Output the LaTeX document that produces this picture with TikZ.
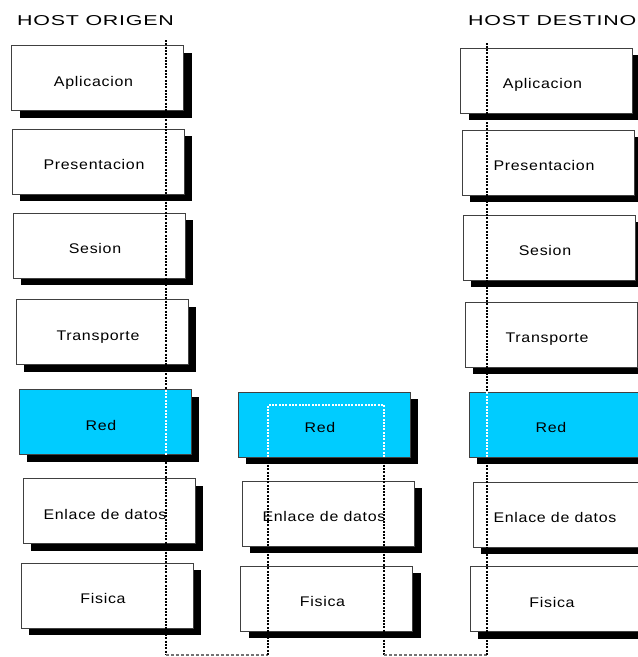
\documentclass[tikz,border=0pt]{standalone}
\usepackage{fontspec}
\setmainfont{Liberation Sans}
\newfontfamily\boxfontfam{Liberation Sans}[FakeStretch=1.14, LetterSpace=5]
\newfontfamily\titlefontfam{Liberation Sans}[FakeStretch=1.5, LetterSpace=5]
\usetikzlibrary{shadows}
\definecolor{redblue}{RGB}{0,204,255}
\begin{document}
\begin{tikzpicture}[x=1pt,y=-1pt,
  layer/.style={draw=black!75, line width=0.8pt, fill=white,
    minimum width=172pt, minimum height=65pt, inner sep=0pt,
    text height=16pt, text depth=0pt,
    font=\boxfontfam\fontsize{14pt}{16pt}\selectfont,
    general shadow={fill=black, shadow xshift=8pt, shadow yshift=-7pt},
    execute at end node={\kern8pt}},
  redlayer/.style={layer, fill=redblue},
  title/.style={anchor=base west, inner sep=0pt,
    font=\titlefontfam\fontsize{14.3pt}{16pt}\selectfont},
  pathline/.style={line width=1.3pt, dash pattern=on 2pt off 1.3pt},
  baseline/.style={line width=1.2pt, black!55, dash pattern=on 3pt off 2pt}]
\useasboundingbox (0,0) rectangle (638,657);
\fill[white] (0,0) rectangle (638,657);

% titles
\node[title] (t1) at (17,25) {HOST ORIGEN};
\node[title] (t2) at (468,25) {HOST DESTINO};

% host origen
\node[layer] (o1) at (97.5,78) {Aplicacion};
\node[layer] (o2) at (98,161.5) {Presentacion};
\node[layer] (o3) at (99,245.5) {Sesion};
\node[layer] (o4) at (102,332) {Transporte};
\node[redlayer] (o5) at (105,422) {Red};
\node[layer] (o6) at (109,511) {Enlace de datos};
\node[layer] (o7) at (107,595.5) {Fisica};

% router
\node[redlayer] (m5) at (324,424.5) {Red};
\node[layer] (m6) at (328,513.5) {Enlace de datos};
\node[layer] (m7) at (326.5,598.5) {Fisica};

% host destino
\node[layer] (d1) at (546.5,80.5) {Aplicacion};
\node[layer] (d2) at (548,162.5) {Presentacion};
\node[layer] (d3) at (549,247.5) {Sesion};
\node[layer] (d4) at (551,334.5) {Transporte};
\node[redlayer] (d5) at (555,424.5) {Red};
\node[layer] (d6) at (559,514.5) {Enlace de datos};
\node[layer] (d7) at (556,599) {Fisica};

% data path
\coordinate (p0) at (166,40);
\coordinate (p1) at (166,655);
\coordinate (p2) at (268,655);
\coordinate (p3) at (268,405);
\coordinate (p4) at (384,405);
\coordinate (p5) at (384,655);
\coordinate (p6) at (487,655);
\coordinate (p7) at (487,42);

\draw[pathline] (p0) -- (p1);
\draw[baseline] (p1) -- (p2);
\draw[pathline] (p2) -- (p3) -- (p4) -- (p5);
\draw[baseline] (p5) -- (p6);
\draw[pathline] (p6) -- (p7);

% path drawn white where it crosses the blue layers
\begin{scope}
  \clip (o5.north west) rectangle (o5.south east);
  \draw[pathline, white] (p0) -- (p1);
\end{scope}
\begin{scope}
  \clip (m5.north west) rectangle (m5.south east);
  \draw[pathline, white] (p2) -- (p3) -- (p4) -- (p5);
\end{scope}
\begin{scope}
  \clip (d5.north west) rectangle (d5.south east);
  \draw[pathline, white] (p6) -- (p7);
\end{scope}
\end{tikzpicture}
\end{document}
